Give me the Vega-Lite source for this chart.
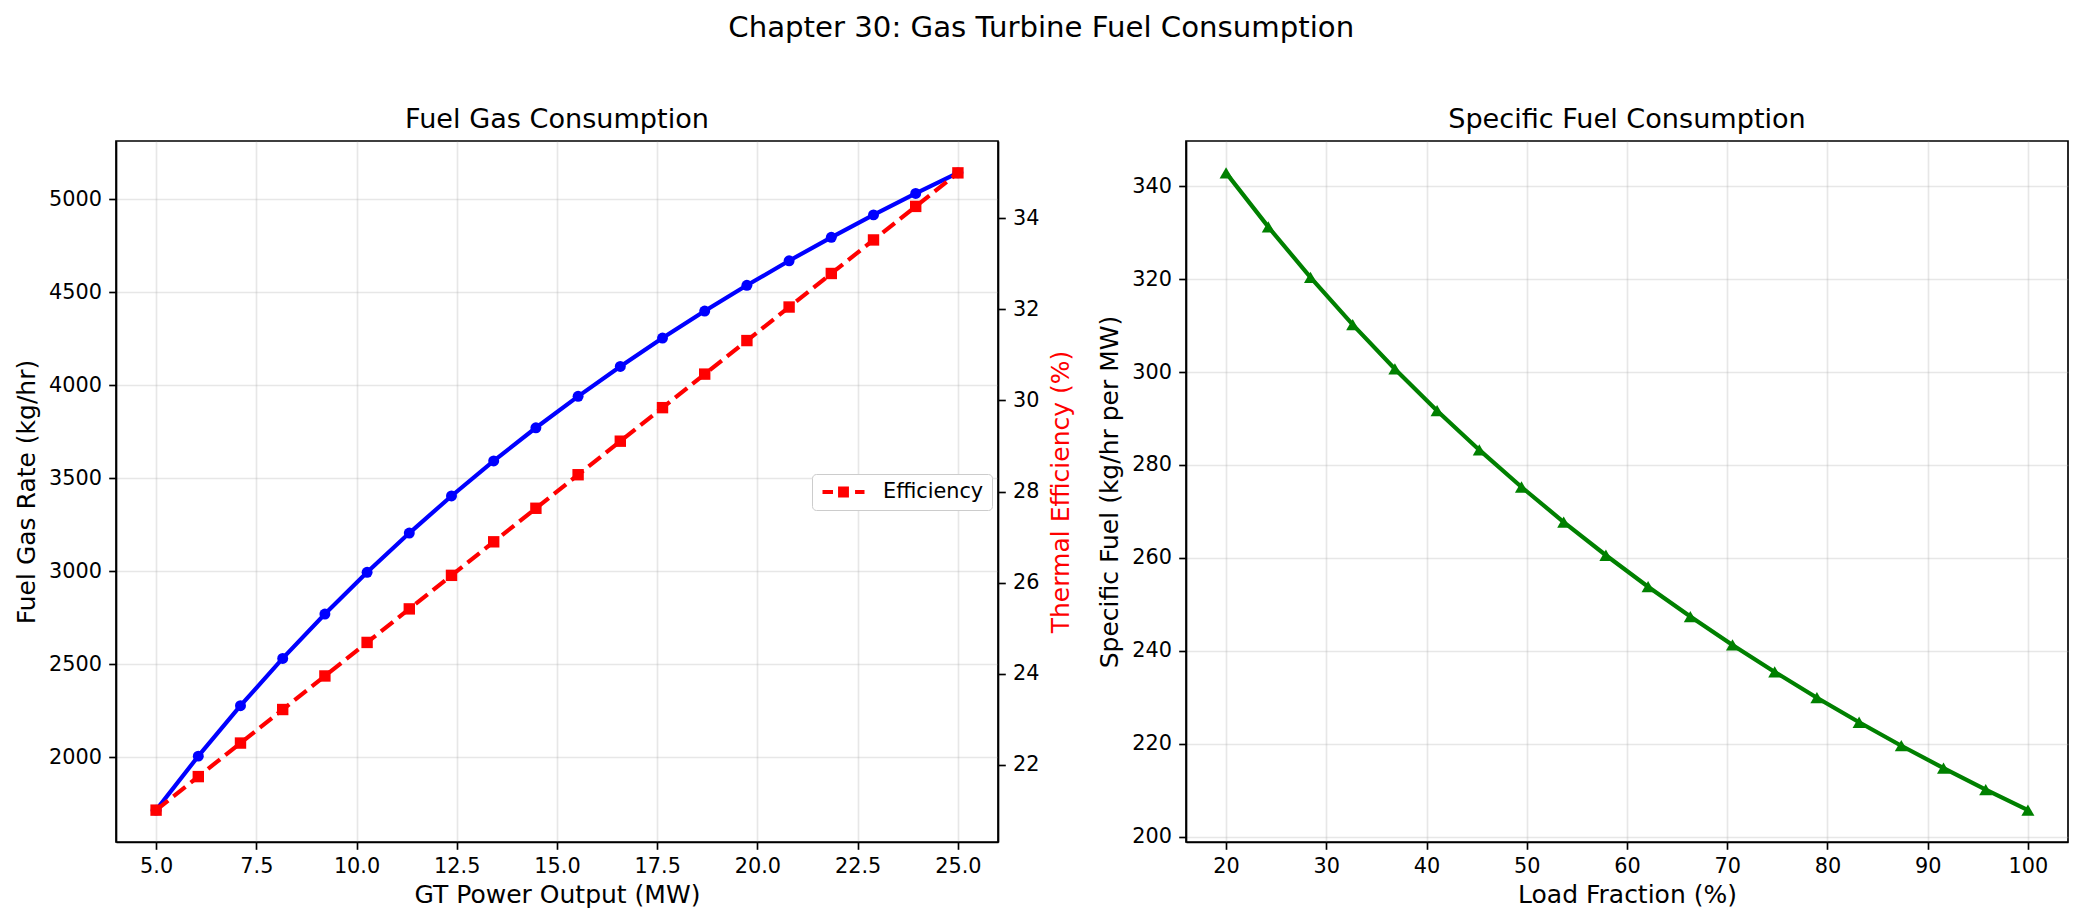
{
  "$schema": "https://vega.github.io/schema/vega-lite/v6.json",
  "autosize": {"type": "pad"},
  "padding": {"left": 13, "top": 14, "right": 0, "bottom": 0},
  "background": "white",
  "title": {"text": "Chapter 30: Gas Turbine Fuel Consumption", "fontSize": 29.2, "fontWeight": "normal", "font": "DejaVu Sans", "color": "black", "anchor": "middle", "offset": 62},
  "datasets": {
    "gt": [
      {"P": 5.0, "fuel": 1714.29, "eff": 21.0, "load": 20.0, "sfc": 342.86},
      {"P": 6.0526, "fuel": 2004.83, "eff": 21.7368, "load": 24.2105, "sfc": 331.23},
      {"P": 7.1053, "fuel": 2276.36, "eff": 22.4737, "load": 28.4211, "sfc": 320.37},
      {"P": 8.1579, "fuel": 2530.61, "eff": 23.2105, "load": 32.6316, "sfc": 310.2},
      {"P": 9.2105, "fuel": 2769.22, "eff": 23.9474, "load": 36.8421, "sfc": 300.66},
      {"P": 10.2632, "fuel": 2993.62, "eff": 24.6842, "load": 41.0526, "sfc": 291.68},
      {"P": 11.3158, "fuel": 3204.96, "eff": 25.4211, "load": 45.2632, "sfc": 283.23},
      {"P": 12.3684, "fuel": 3404.42, "eff": 26.1579, "load": 49.4737, "sfc": 275.25},
      {"P": 13.4211, "fuel": 3592.97, "eff": 26.8947, "load": 53.6842, "sfc": 267.71},
      {"P": 14.4737, "fuel": 3771.42, "eff": 27.6316, "load": 57.8947, "sfc": 260.57},
      {"P": 15.5263, "fuel": 3940.63, "eff": 28.3684, "load": 62.1053, "sfc": 253.8},
      {"P": 16.5789, "fuel": 4101.26, "eff": 29.1053, "load": 66.3158, "sfc": 247.38},
      {"P": 17.6316, "fuel": 4253.98, "eff": 29.8421, "load": 70.5263, "sfc": 241.27},
      {"P": 18.6842, "fuel": 4399.33, "eff": 30.5789, "load": 74.7368, "sfc": 235.46},
      {"P": 19.7368, "fuel": 4537.8, "eff": 31.3158, "load": 78.9474, "sfc": 229.92},
      {"P": 20.7895, "fuel": 4669.97, "eff": 32.0526, "load": 83.1579, "sfc": 224.63},
      {"P": 21.8421, "fuel": 4796.15, "eff": 32.7895, "load": 87.3684, "sfc": 219.58},
      {"P": 22.8947, "fuel": 4916.79, "eff": 33.5263, "load": 91.5789, "sfc": 214.76},
      {"P": 23.9474, "fuel": 5032.25, "eff": 34.2632, "load": 95.7895, "sfc": 210.14},
      {"P": 25.0, "fuel": 5142.86, "eff": 35.0, "load": 100.0, "sfc": 205.71}
    ]
  },
  "data": {"name": "gt"},
  "bounds": "flush",
  "spacing": 188,
  "hconcat": [
    {
      "width": 882,
      "height": 701,
      "title": {"text": "Fuel Gas Consumption", "fontSize": 27.1, "fontWeight": "normal", "font": "DejaVu Sans", "color": "black", "anchor": "middle", "offset": 6.6},
      "layer": [
        {
          "mark": {"type": "line", "color": "blue", "strokeWidth": 4.17, "point": {"filled": true, "size": 120, "shape": "circle", "color": "blue"}},
          "encoding": {
            "x": {"field": "P", "type": "quantitative", "scale": {"domain": [4, 26], "nice": false, "zero": false},
                  "axis": {"title": "GT Power Output (MW)", "values": [5, 7.5, 10, 12.5, 15, 17.5, 20, 22.5, 25], "format": ".1f", "grid": true}},
            "y": {"field": "fuel", "type": "quantitative", "scale": {"domain": [1542.86, 5314.29], "nice": false, "zero": false},
                  "axis": {"title": "Fuel Gas Rate (kg/hr)", "values": [2000, 2500, 3000, 3500, 4000, 4500, 5000], "format": "d", "grid": true}}
          }
        },
        {
          "mark": {"type": "line", "strokeWidth": 4.17, "strokeDash": [15.4, 6.7], "point": {"filled": true, "size": 130, "shape": "square"}},
          "encoding": {
            "x": {"field": "P", "type": "quantitative"},
            "y": {"field": "eff", "type": "quantitative", "scale": {"domain": [20.3, 35.7], "nice": false, "zero": false},
                  "axis": {"orient": "right", "title": "Thermal Efficiency (%)", "titleColor": "red", "titleAngle": 270, "titleBaseline": "top", "values": [22, 24, 26, 28, 30, 32, 34], "format": "d", "grid": false}},
            "color": {"datum": "Efficiency", "type": "nominal", "scale": {"range": ["red"]},
                      "legend": {"orient": "none", "legendX": 696, "legendY": 333, "title": null,
                                 "labelFontSize": 20.8, "labelFont": "DejaVu Sans", "labelColor": "black",
                                 "symbolType": "M-1,0H-0.5M0.55,0H1M-0.16,-0.16H0.16V0.16H-0.16Z",
                                 "symbolSize": 1764, "symbolStrokeWidth": 4.17, "symbolFillColor": "red", "symbolStrokeColor": "red", "symbolDash": [],
                                 "clipHeight": 20, "labelOffset": 16, "padding": 8,
                                 "fillColor": "white", "strokeColor": "#cccccc", "cornerRadius": 4}}
          }
        }
      ],
      "resolve": {"scale": {"y": "independent"}}
    },
    {
      "width": 882,
      "height": 701,
      "title": {"text": "Specific Fuel Consumption", "fontSize": 27.1, "fontWeight": "normal", "font": "DejaVu Sans", "color": "black", "anchor": "middle", "offset": 6.6},
      "mark": {"type": "line", "color": "green", "strokeWidth": 4.17, "point": {"filled": true, "size": 170, "shape": "triangle-up", "color": "green"}},
      "encoding": {
        "x": {"field": "load", "type": "quantitative", "scale": {"domain": [16, 104], "nice": false, "zero": false},
              "axis": {"title": "Load Fraction (%)", "values": [20, 30, 40, 50, 60, 70, 80, 90, 100], "format": "d", "grid": true}},
        "y": {"field": "sfc", "type": "quantitative", "scale": {"domain": [198.857, 349.714], "nice": false, "zero": false},
              "axis": {"title": "Specific Fuel (kg/hr per MW)", "values": [200, 220, 240, 260, 280, 300, 320, 340], "format": "d", "grid": true}}
      }
    }
  ],
  "config": {
    "font": "DejaVu Sans",
    "view": {"stroke": "black", "strokeWidth": 1.67},
    "axis": {
      "labelFont": "DejaVu Sans", "labelFontSize": 20.8, "labelColor": "black",
      "titleFont": "DejaVu Sans", "titleFontSize": 25, "titleFontWeight": "normal", "titleColor": "black",
      "tickColor": "black", "tickSize": 7.3, "tickWidth": 1.67, "labelPadding": 7.3, "titlePadding": 9,
      "domainColor": "black", "domainWidth": 1.67,
      "gridColor": "#b0b0b0", "gridOpacity": 0.3, "gridWidth": 1.67,
      "labelFlush": false, "labelOverlap": false
    },
    "axisX": {"titlePadding": 6}
  }
}
